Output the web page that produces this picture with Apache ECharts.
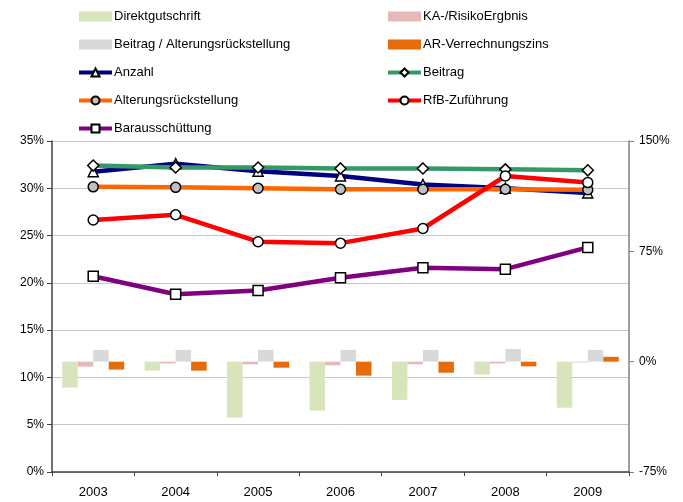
<!DOCTYPE html>
<html>
<head>
<meta charset="utf-8">
<script src="https://cdn.jsdelivr.net/npm/echarts@6/dist/echarts.min.js"></script>
<style>
  html, body { margin: 0; padding: 0; background: #fff; }
  #chart { width: 683px; height: 502px; }
</style>
</head>
<body>
<div id="chart"></div>
<script>
// Jahre
const years = ['2003', '2004', '2005', '2006', '2007', '2008', '2009'];

// Balken (rechte Achse, %)
const direktgutschrift = [-17.6, -6.1, -38.0, -33.3, -26.0, -8.8, -31.3];
const kaRisiko = [-3.4, -1.2, -1.8, -2.5, -1.8, -1.2, -0.5];
const beitragAR = [8.0, 8.0, 8.0, 8.0, 8.0, 8.6, 8.0];
const arZins = [-5.4, -6.1, -4.1, -9.5, -7.5, -3.2, 3.3];

// Linien (linke Achse, %)
const anzahl = [31.75, 32.6, 31.8, 31.3, 30.4, 30.0, 29.5];
const beitrag = [32.4, 32.2, 32.2, 32.1, 32.1, 32.0, 31.9];
const alterung = [30.15, 30.1, 30.0, 29.9, 29.9, 29.9, 29.85];
const rfb = [26.65, 27.2, 24.35, 24.2, 25.75, 31.3, 30.6];
const baraus = [20.7, 18.8, 19.2, 20.55, 21.6, 21.45, 23.75];

const font = 'Liberation Sans, Arial, sans-serif';
const chart = echarts.init(document.getElementById('chart'));

function barSeries(name, data, color) {
  return {
    name: name, type: 'bar', yAxisIndex: 1, data: data,
    barWidth: 15.5, barGap: '0%',
    itemStyle: { color: color },
    emphasis: { disabled: true }
  };
}

function lineSeries(name, data, color, symbol, fill, size) {
  return {
    name: name, type: 'line', yAxisIndex: 0, data: data,
    symbol: symbol, symbolSize: size,
    lineStyle: { color: color, width: 4.5 },
    itemStyle: { color: fill, borderColor: '#000', borderWidth: 1.5 },
    z: 3,
    emphasis: { disabled: true }
  };
}

const legendText = { fontFamily: font, fontSize: 13, color: '#000', padding: [0, 0, 0, -3] };

chart.setOption({
  animation: false,
  legend: [
    {
      orient: 'vertical', left: 72, top: 5,
      itemWidth: 33, itemHeight: 10, itemGap: 15,
      textStyle: legendText,
      lineStyle: { width: 4 },
      data: [
        { name: 'Direktgutschrift', icon: 'rect' },
        { name: 'Beitrag / Alterungsrückstellung', icon: 'rect' },
        { name: 'Anzahl' },
        { name: 'Alterungsrückstellung' },
        { name: 'Barausschüttung' }
      ]
    },
    {
      orient: 'vertical', left: 381, top: 5,
      itemWidth: 33, itemHeight: 10, itemGap: 15,
      textStyle: legendText,
      lineStyle: { width: 4 },
      data: [
        { name: 'KA-/RisikoErgbnis', icon: 'rect' },
        { name: 'AR-Verrechnungszins', icon: 'rect' },
        { name: 'Beitrag' },
        { name: 'RfB-Zuführung' }
      ]
    }
  ],
  grid: { left: 52, right: 54, top: 141, bottom: 30 },
  xAxis: {
    type: 'category', data: years,
    axisLine: { lineStyle: { color: '#404040', width: 1.5 } },
    axisTick: { show: true, length: 4, lineStyle: { color: '#404040' } },
    axisLabel: { fontFamily: font, fontSize: 13, color: '#000', margin: 14 }
  },
  yAxis: [
    {
      type: 'value', min: 0, max: 35, interval: 5,
      axisLine: { show: true, lineStyle: { color: '#404040', width: 1.5 } },
      axisTick: { show: true, length: 5, lineStyle: { color: '#404040' } },
      axisLabel: { formatter: '{value}%', fontFamily: font, fontSize: 12, color: '#000', margin: 8 },
      splitLine: { lineStyle: { color: '#c8c8c8', width: 1 } }
    },
    {
      type: 'value', min: -75, max: 150, interval: 75,
      axisLine: { show: true, lineStyle: { color: '#808080', width: 1.5 } },
      axisTick: { show: true, length: 5, lineStyle: { color: '#808080' } },
      axisLabel: { formatter: '{value}%', fontFamily: font, fontSize: 12, color: '#000', margin: 10 },
      splitLine: { show: false }
    }
  ],
  series: [
    barSeries('Direktgutschrift', direktgutschrift, '#d8e4bc'),
    barSeries('KA-/RisikoErgbnis', kaRisiko, '#e6b9b8'),
    barSeries('Beitrag / Alterungsrückstellung', beitragAR, '#d9d9d9'),
    barSeries('AR-Verrechnungszins', arZins, '#e46c0a'),
    lineSeries('Anzahl', anzahl, '#000080', 'triangle', '#fff', 10),
    lineSeries('Beitrag', beitrag, '#339966', 'diamond', '#fff', 11),
    lineSeries('Alterungsrückstellung', alterung, '#ff6600', 'circle', '#c0c0c0', 10),
    lineSeries('RfB-Zuführung', rfb, '#ff0000', 'circle', '#fff', 10),
    lineSeries('Barausschüttung', baraus, '#800080', 'rect', '#fff', 10)
  ]
});
</script>
</body>
</html>
